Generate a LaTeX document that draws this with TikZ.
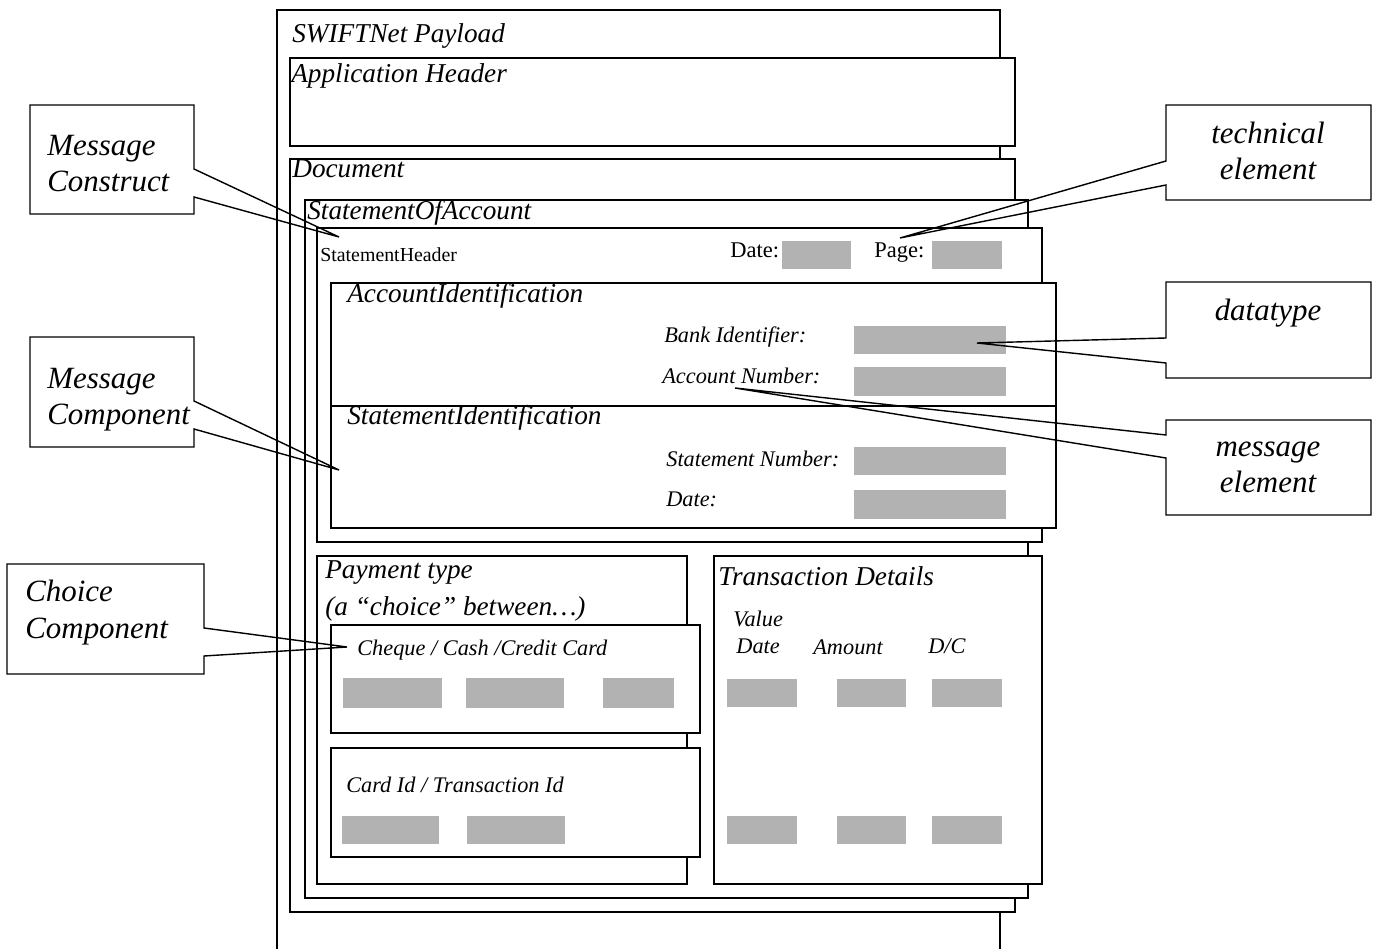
\documentclass[tikz,border=0pt]{standalone}
\usepackage{fontspec}
\setmainfont{Liberation Serif}
\usetikzlibrary{positioning,calc}
\tikzset{
  fr/.style={draw=black, fill=white, line width=0.8pt},
  fld/.style={fill=black!30, draw=none},
  hd/.style={anchor=base west, inner sep=0pt, font=\fontsize{15.5}{18}\selectfont\itshape},
  el/.style={anchor=base west, inner sep=0pt, font=\fontsize{12.7}{15.3}\selectfont\itshape},
  rm/.style={anchor=base west, inner sep=0pt, font=\fontsize{12.8}{15}\selectfont},
  co/.style={inner sep=0pt, font=\fontsize{17.6}{20.6}\selectfont\itshape},
  cl/.style={draw=black, line width=0.8pt},
}
\begin{document}
\begin{tikzpicture}[x=0.02cm, y=-0.02cm]
	\useasboundingbox (0,0) rectangle (1373,949);
	% payload and its parts
	\draw[line width=0.8pt] (277,949) -- (277,10) -- (1000,10) -- (1000,949);
	\node[hd] (pay) at (292,43) {SWIFTNet Payload};
	\draw[fr] (290,58) rectangle (1015,146);
	\node[hd] (app) at (291,83) {Application Header};
	\draw[fr] (290,159) rectangle (1015,912);
	\node[hd] (doc) at (292,178) {Document};
	\draw[fr] (305,200) rectangle (1028,898);
	\node[hd] (soa) at (307,220) {StatementOfAccount};
	%
	\draw[fr] (317,228) rectangle (1042,542);
	\node[rm, font=\fontsize{11.3}{13}\selectfont] (sh) at (320,262) {StatementHeader};
	\node[rm] (shdate) at (730,258) {Date:};
	\fill[fld] (782,241) rectangle (851,269);
	\node[rm] (shpage) at (874,258) {Page:};
	\fill[fld] (932,241) rectangle (1002,269);
	%
	\draw[fr] (331,283) rectangle (1056,406);
	\node[hd] (acc) at (347,303) {AccountIdentification};
	\node[el] (bank) at (664,343) {Bank Identifier:};
	\fill[fld] (854,326) rectangle (1006,354);
	\node[el] (accno) at (662,384) {Account Number:};
	\fill[fld] (854,367) rectangle (1006,396);
	\draw[fr] (331,406) rectangle (1056,528);
	\node[hd] (stm) at (347,425) {StatementIdentification};
	\node[el] (stmno) at (666,467) {Statement Number:};
	\fill[fld] (854,447) rectangle (1006,475);
	\node[el] (stmdate) at (666,506) {Date:};
	\fill[fld] (854,490) rectangle (1006,519);
	%
	\draw[fr] (317,556) rectangle (687,884);
	\node[hd, align=left] (pt) at (325,615) {Payment type\\[3pt](a “choice” between\dots)};
	\draw[fr] (331,625) rectangle (700,733);
	\node[el] (cash) at (357,655) {Cheque / Cash /Credit Card};
	\fill[fld] (343,678) rectangle (442,708);
	\fill[fld] (466,678) rectangle (564,708);
	\fill[fld] (603,678) rectangle (674,708);
	\draw[fr] (331,748) rectangle (700,857);
	\node[el] (card) at (346,792) {Card Id / Transaction Id};
	\fill[fld] (342,816) rectangle (439,844);
	\fill[fld] (467,816) rectangle (565,844);
	%
	\draw[fr] (714,556) rectangle (1042,884);
	\node[hd] (td) at (718,585) {Transaction Details};
	\node[el, align=center] (vdate) at (733,653) {Value\\Date};
	\node[el] (amt) at (813,654) {Amount};
	\node[el] (dc) at (928,653) {D/C};
	\foreach \y in {679,816} {
		\fill[fld] (727,\y) rectangle +(70,28);
		\fill[fld] (837,\y) rectangle +(69,28);
		\fill[fld] (932,\y) rectangle +(70,28);
	}
	% callouts
	\coordinate (tmcon) at (339,237);
	\coordinate (tmcomp) at (339,470);
	\coordinate (tchoice) at (347,647);
	\coordinate (ttech) at (900,238);
	\coordinate (tdtype) at (977,343);
	\coordinate (tmel) at (735,388);
	\node[co, anchor=base west, align=left] (mcon) at (47,192) {Message\\Construct};
	\node[co, anchor=base west, align=left] (mcomp) at (47,425) {Message\\Component};
	\node[co, anchor=base west, align=left] (choice) at (25,638) {Choice\\Component};
	\node[co, anchor=base, align=center] (tech) at (1268,180) {technical\\element};
	\node[co, anchor=base] (dtype) at (1268,321) {datatype};
	\node[co, anchor=base, align=center] (mel) at (1268,493) {message\\element};
	\draw[cl] (194,169) -- (194,105) -- (30,105) -- (30,214) -- (194,214) -- (194,197) -- (tmcon) -- cycle;
	\draw[cl] (194,401) -- (194,337) -- (30,337) -- (30,447) -- (194,447) -- (194,429) -- (tmcomp) -- cycle;
	\draw[cl] (204,628) -- (204,564) -- (7,564) -- (7,674) -- (204,674) -- (204,656) -- (tchoice) -- cycle;
	\draw[cl] (1166,161) -- (1166,105) -- (1371,105) -- (1371,200) -- (1166,200) -- (1166,185) -- (ttech) -- cycle;
	\draw[cl] (1166,338) -- (1166,282) -- (1371,282) -- (1371,378) -- (1166,378) -- (1166,363) -- (tdtype) -- cycle;
	\draw[cl] (1166,435) -- (1166,420) -- (1371,420) -- (1371,515) -- (1166,515) -- (1166,458) -- (tmel) -- cycle;
\end{tikzpicture}
\end{document}
